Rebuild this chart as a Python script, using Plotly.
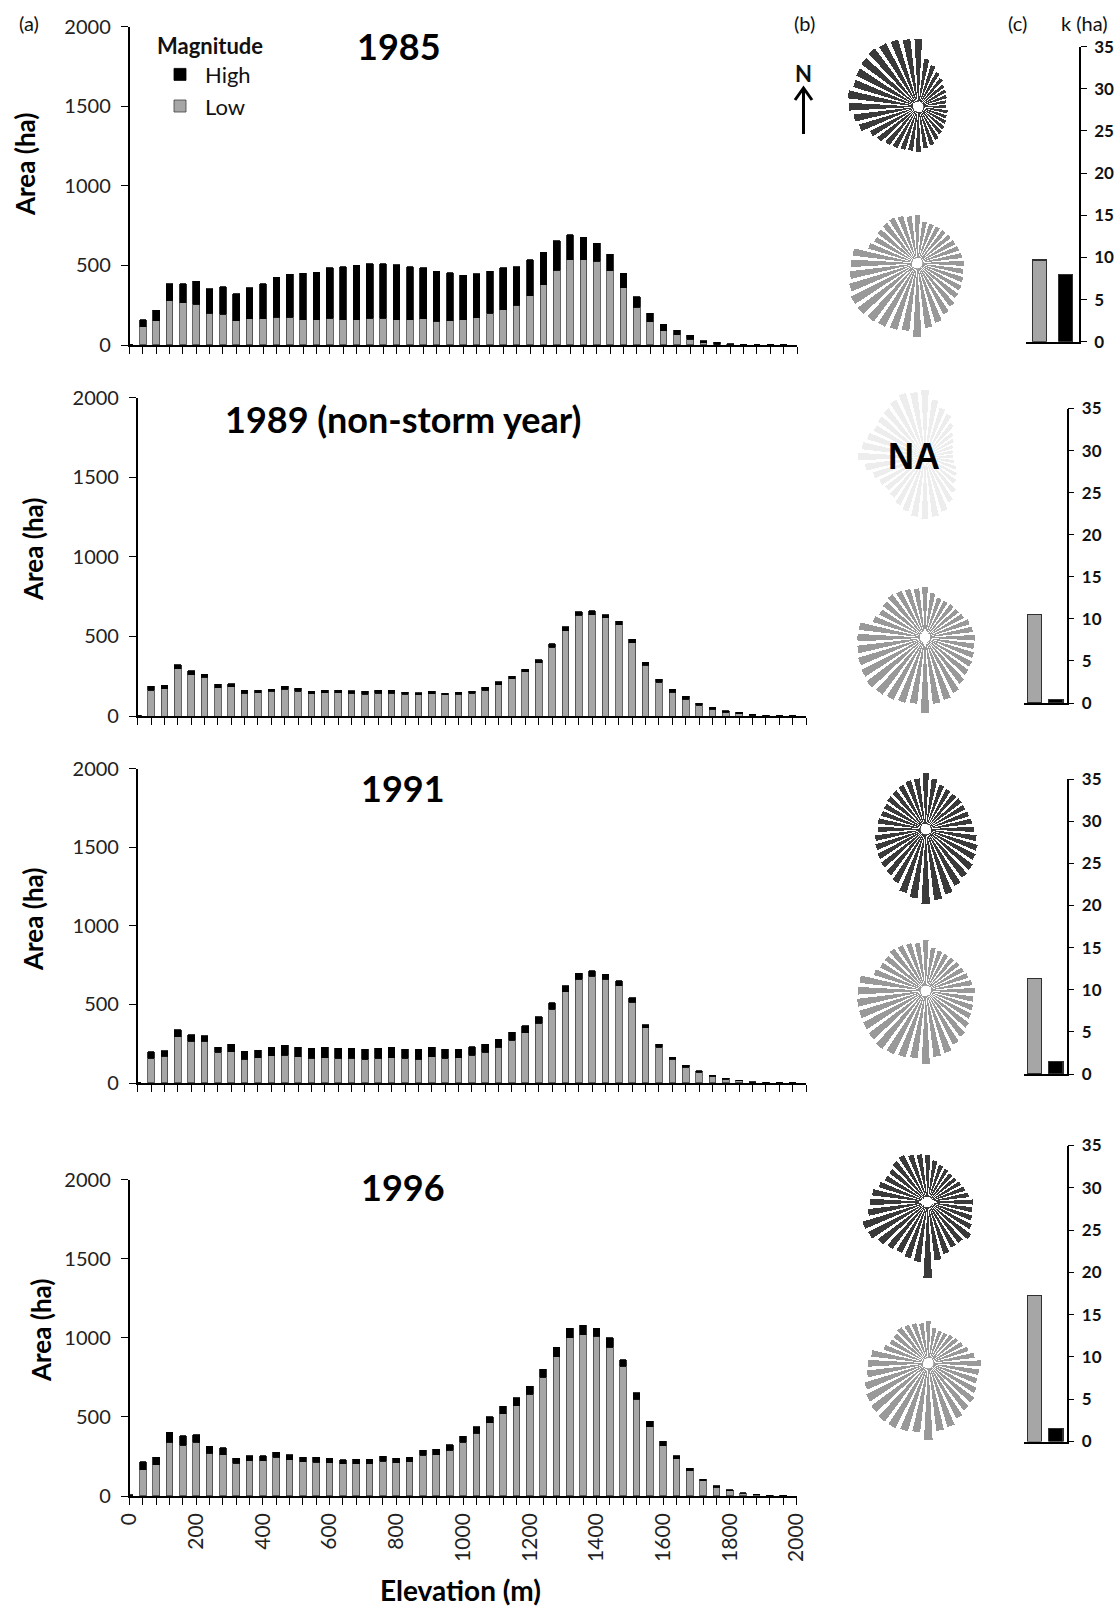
import plotly.graph_objects as go

W, H = 1120, 1611

# ---------------- data ----------------
elev = list(range(0, 2000, 40))  # elevation bins (m)

low_1985 = [0, 115, 153, 279, 264, 257, 198, 194, 153, 164, 164, 174, 174, 160, 160, 168, 160, 160, 168, 168,
            160, 158, 164, 148, 153, 158, 171, 200, 222, 251, 310, 379, 471, 537, 537, 525, 468, 361, 237, 147,
            90, 63, 36, 15, 6, 4, 3, 1, 0, 0]
high_1985 = [0, 45, 64, 106, 121, 145, 155, 172, 168, 196, 221, 252, 271, 291, 297, 317, 332, 340, 343, 343,
             344, 334, 321, 316, 301, 280, 277, 265, 263, 240, 225, 203, 184, 156, 139, 115, 101, 90, 65, 52,
             40, 31, 25, 12, 11, 4, 3, 2, 0, 0]

low_1989 = [0, 162, 171, 296, 258, 244, 179, 183, 142, 146, 154, 169, 156, 140, 146, 146, 142, 137, 144, 144,
            137, 135, 140, 133, 137, 144, 161, 196, 234, 279, 335, 433, 537, 633, 637, 617, 573, 460, 319, 212,
            150, 106, 67, 44, 25, 15, 6, 2, 1, 1]
high_1989 = [6, 25, 21, 25, 27, 18, 21, 21, 20, 16, 13, 18, 17, 14, 16, 16, 18, 17, 18, 18,
             13, 11, 14, 11, 13, 12, 20, 18, 17, 15, 17, 21, 23, 23, 25, 20, 21, 21, 18, 19,
             19, 19, 14, 12, 8, 8, 4, 2, 1, 1]

low_1991 = [0, 158, 171, 295, 264, 264, 194, 200, 152, 162, 173, 177, 167, 156, 162, 156, 156, 152, 156, 162,
            156, 152, 167, 156, 162, 177, 194, 226, 272, 320, 380, 470, 580, 660, 680, 660, 620, 515, 350, 228,
            150, 100, 68, 42, 24, 13, 6, 3, 1, 1]
high_1991 = [3, 40, 34, 45, 44, 38, 32, 47, 51, 47, 53, 64, 59, 66, 64, 66, 66, 63, 66, 64,
             59, 63, 59, 59, 53, 53, 53, 53, 51, 45, 42, 40, 40, 38, 35, 32, 30, 28, 22, 18,
             15, 12, 9, 7, 5, 4, 3, 1, 1, 0]

low_1996 = [0, 165, 197, 339, 322, 339, 271, 261, 208, 222, 222, 246, 229, 216, 214, 210, 203, 203, 203, 220,
            210, 218, 256, 261, 288, 339, 398, 462, 521, 572, 642, 750, 880, 1000, 1020, 1010, 940, 820, 611, 437,
            318, 237, 161, 97, 55, 33, 18, 9, 5, 3]
high_1996 = [8, 53, 47, 64, 59, 47, 43, 44, 31, 32, 32, 32, 32, 28, 30, 29, 26, 30, 30, 30,
             29, 26, 32, 36, 36, 38, 41, 40, 47, 49, 53, 50, 60, 60, 60, 50, 60, 40, 42, 36,
             27, 17, 15, 9, 9, 5, 3, 2, 1, 1]

years = ["1985", "1989 (non-storm year)", "1991", "1996"]
lows = [low_1985, low_1989, low_1991, low_1996]
highs = [high_1985, high_1989, high_1991, high_1996]

# aspect distributions (relative frequency), 36 sectors of 10 deg, clockwise from N
theta = list(range(0, 360, 10))
rose_high_1985 = [205, 140, 125, 110, 100, 90, 85, 80, 75, 75, 80, 80, 85, 90, 95, 105, 115, 120,
                  130, 128, 130, 135, 140, 150, 160, 185, 195, 210, 215, 205, 210, 215, 220, 215, 212, 205]
rose_low_1985 = [142, 120, 118, 118, 118, 120, 122, 125, 130, 136, 135, 140, 145, 150, 160, 170, 185, 195,
                 222, 205, 210, 215, 220, 225, 225, 215, 205, 200, 195, 150, 140, 145, 148, 150, 145, 138]
rose_na_1989 = [200, 170, 150, 140, 120, 100, 90, 80, 75, 75, 80, 90, 100, 110, 130, 150, 170, 180,
                185, 180, 170, 160, 150, 145, 150, 160, 180, 200, 190, 180, 170, 175, 180, 190, 200, 195]
rose_low_1989 = [148, 130, 120, 118, 120, 120, 125, 135, 140, 145, 145, 150, 155, 160, 170, 185, 195, 200,
                 227, 200, 205, 210, 215, 220, 215, 210, 205, 203, 200, 160, 150, 155, 160, 155, 150, 145]
rose_high_1991 = [168, 150, 135, 130, 128, 130, 128, 130, 135, 140, 150, 160, 165, 175, 180, 190, 205, 215,
                  227, 210, 200, 180, 170, 165, 160, 155, 150, 140, 140, 135, 135, 140, 142, 145, 150, 150]
rose_low_1991 = [149, 125, 120, 118, 118, 120, 122, 128, 135, 145, 140, 145, 150, 160, 170, 180, 195, 200,
                 223, 205, 210, 215, 220, 215, 212, 210, 208, 205, 200, 160, 150, 150, 155, 150, 145, 140]
rose_high_1996 = [136, 120, 110, 105, 100, 100, 105, 110, 118, 130, 130, 135, 145, 160, 150, 150, 160, 175,
                  231, 180, 175, 170, 175, 185, 200, 205, 180, 171, 165, 150, 140, 140, 150, 155, 145, 140]
rose_low_1996 = [120, 100, 95, 95, 100, 105, 110, 120, 135, 155, 150, 150, 160, 170, 175, 185, 200, 205,
                 232, 210, 215, 220, 220, 215, 210, 200, 185, 180, 170, 135, 125, 125, 130, 125, 120, 115]

# k (ha) values: Low, High
k_cats = ["Low", "High"]
k_1985 = [9.7, 8.0]
k_1989 = [10.5, 0.4]
k_1991 = [11.3, 1.5]
k_1996 = [17.3, 1.5]
k_vals = [k_1985, k_1989, k_1991, k_1996]

# ---------------- layout helpers ----------------
def fx(px):
    return px / W

def fy(py):
    return 1 - py / H

FONT = "Lato"
GRAY = "#a6a6a6"
DARK = "#3a3a3a"

# histogram panels: (x of elevation 0, x of 2000, y of 0 ha, y of 2000 ha)
hist_geo = [(129.5, 797, 345, 26.7), (137.7, 806, 716, 397.6),
            (137.7, 806, 1083, 768.6), (129.5, 796.5, 1496, 1179.6)]
# k panels: (x left, x axis, y of 0, y of 35)
k_geo = [(1026, 1079, 341.7, 46.7), (1023.5, 1066.7, 703, 408.5),
         (1023.5, 1066.7, 1074, 779), (1023.5, 1066.7, 1441.5, 1145.5)]
k_width = [0.53, 0.65, 0.65, 0.65]

fig = go.Figure()
layout = dict(width=W, height=H, margin=dict(l=0, r=0, t=0, b=0, pad=0, autoexpand=False),
              paper_bgcolor="white", plot_bgcolor="white", barmode="stack",
              font=dict(family=FONT, color="#111"), showlegend=True)

tickvals = list(range(0, 2001, 40))
for i in range(4):
    n = i + 1
    xs = "" if n == 1 else str(n)
    x0, x1, y0, y1 = hist_geo[i]
    bottom = (i == 3)
    fig.add_trace(go.Bar(x=elev, y=lows[i], width=20, name="Low", marker=dict(color=GRAY, line=dict(color="#404040", width=0.8)),
                         xaxis="x" + xs, yaxis="y" + xs, showlegend=(i == 0), legendgroup="low"))
    fig.add_trace(go.Bar(x=elev, y=highs[i], width=20, name="High", marker=dict(color="#000000", line=dict(color="#000", width=0.8)),
                         xaxis="x" + xs, yaxis="y" + xs, showlegend=(i == 0), legendgroup="high"))
    layout["xaxis" + xs] = dict(domain=[fx(x0), fx(x1)], range=[0, 2000], anchor="y" + xs,
                                showline=True, linecolor="black", linewidth=1.5, ticks="outside",
                                ticklen=7, tickwidth=1.3, tickcolor="black", tickmode="array",
                                tickvals=tickvals,
                                ticktext=[str(v) if v % 200 == 0 else "" for v in tickvals],
                                showticklabels=bottom, tickangle=-90, automargin=False,
                                tickfont=dict(size=21, family=FONT, color="#222"),
                                showgrid=False, zeroline=False, fixedrange=True)
    layout["yaxis" + xs] = dict(domain=[fy(y0), fy(y1)], range=[0, 2000], anchor="x" + xs,
                                showline=True, linecolor="black", linewidth=1.5, ticks="outside",
                                ticklen=7, tickwidth=1.3, tickcolor="black", automargin=False,
                                ticklabelstandoff=6,
                                tickvals=[0, 500, 1000, 1500, 2000],
                                tickfont=dict(size=20, family=FONT, color="#222"),
                                showgrid=False, zeroline=False)

# k panels
for i in range(4):
    n = i + 5
    xs = str(n)
    xl, xa, y0, y1 = k_geo[i]
    fig.add_trace(go.Bar(x=[0, 1], y=k_vals[i], width=k_width[i], showlegend=False,
                         marker=dict(color=[GRAY, "#000000"], line=dict(color="#303030", width=1.2)),
                         xaxis="x" + xs, yaxis="y" + xs, hovertext=k_cats))
    layout["xaxis" + xs] = dict(domain=[fx(xl), fx(xa)], range=[-0.5, 1.5], anchor="y" + xs,
                                showline=True, linecolor="black", linewidth=1.5, ticks="",
                                showticklabels=False, showgrid=False, zeroline=False, automargin=False)
    layout["yaxis" + xs] = dict(domain=[fy(y0), fy(y1)], range=[0, 35], anchor="x" + xs, side="right",
                                showline=True, linecolor="black", linewidth=1.5, ticks="outside",
                                ticklen=6, tickwidth=1.3, tickcolor="black", dtick=5, automargin=False,
                                ticklabelstandoff=4,
                                tickfont=dict(size=17, family=FONT, color="#111", weight="bold"),
                                showgrid=False, zeroline=False)

# roses: (values, colour, center x, center y)
roses = [(rose_high_1985, DARK, 918.3, 106.7), (rose_low_1985, "#999999", 917.3, 263.3),
         (rose_na_1989, "#ededed", 925, 456.7), (rose_low_1989, "#999999", 925, 637.7),
         (rose_high_1991, DARK, 925.7, 829.3), (rose_low_1991, "#999999", 925.7, 990.7),
         (rose_high_1996, DARK, 927.7, 1202), (rose_low_1996, "#999999", 928.3, 1363.3)]
half = 78
for j, (rv, col, cx, cy) in enumerate(roses):
    pn = "polar" if j == 0 else "polar%d" % (j + 1)
    fig.add_trace(go.Barpolar(r=rv, theta=theta, width=6.5, marker=dict(color=col, line=dict(width=0)),
                              subplot=pn, showlegend=False))
    layout[pn] = dict(domain=dict(x=[fx(cx - half), fx(cx + half)], y=[fy(cy + half), fy(cy - half)]),
                      bgcolor="rgba(0,0,0,0)", hole=0.065,
                      radialaxis=dict(range=[0, 237], visible=False),
                      angularaxis=dict(visible=False, rotation=90, direction="clockwise"))

layout["legend"] = dict(x=fx(155), y=fy(25), xanchor="left", yanchor="top", traceorder="reversed",
                        title=dict(text="<b>Magnitude</b>", font=dict(size=22, family=FONT, color="#111")),
                        font=dict(size=22, family=FONT, color="#111"), bgcolor="rgba(0,0,0,0)",
                        itemwidth=40, tracegroupgap=0)

ann = []
def A(text, x, y, size, bold=False, angle=0, family=FONT, color="#111"):
    ann.append(dict(text=("<b>%s</b>" % text) if bold else text, x=fx(x), y=fy(y), xref="paper", yref="paper",
                    showarrow=False, xanchor="center", yanchor="middle", textangle=angle,
                    font=dict(size=size, family=family, color=color)))

A("(a)", 29, 23, 20)
A("(b)", 804.5, 23, 20)
A("(c)", 1017, 23, 20)
A("k (ha)", 1084, 23, 20)
A("N", 803.5, 73, 22, bold=True)
A("NA", 913.5, 457, 36, bold=True, family="Liberation Sans", color="#000")
title_pos = [(399, 46), (403, 419), (403, 788), (403, 1187)]
for t, (x, y) in zip(years, title_pos):
    A(t, x, y, 36, bold=True, color="#000")
ylab_pos = [(25, 165), (33, 550), (33, 920), (41, 1331)]
for (x, y) in ylab_pos:
    A("Area (ha)", x, y, 26, bold=True, angle=-90, color="#000")
A("Elevation (m)", 460, 1590, 28, bold=True, color="#000")
layout["annotations"] = ann

# north arrow (decoration)
layout["shapes"] = [
    dict(type="line", xref="paper", yref="paper", x0=fx(803.5), x1=fx(803.5), y0=fy(134), y1=fy(88),
         line=dict(color="black", width=3)),
    dict(type="path", xref="paper", yref="paper",
         path="M %f %f L %f %f L %f %f" % (fx(795), fy(100), fx(803.5), fy(88), fx(812), fy(100)),
         line=dict(color="black", width=3)),
]

fig.update_layout(**layout)
fig.write_html("out.html")
